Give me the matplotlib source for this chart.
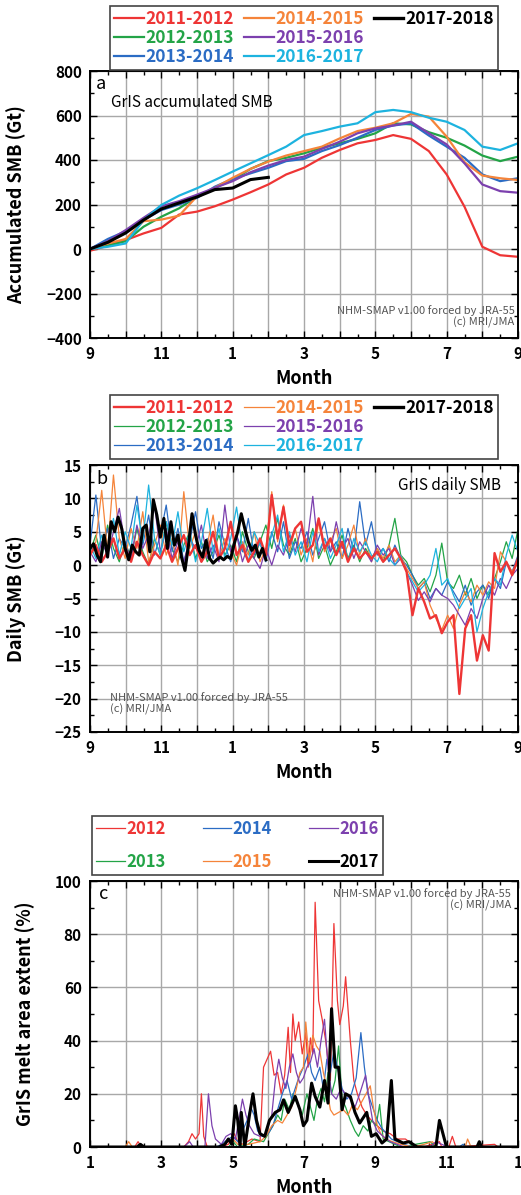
import numpy as np
import matplotlib
matplotlib.use("Agg")
import matplotlib.pyplot as plt
from matplotlib.lines import Line2D
from matplotlib.ticker import FixedLocator, FixedFormatter, MultipleLocator

plt.rcParams['font.family'] = ['Noto Sans CJK JP', 'DejaVu Sans']

SEASONS = ["2011-2012", "2012-2013", "2013-2014", "2014-2015", "2015-2016", "2016-2017", "2017-2018"]
YEARS = ["2012", "2013", "2014", "2015", "2016", "2017"]
COLORS = ["#ee3535", "#23a447", "#2b6cc4", "#f5843a", "#7c40ae", "#1db3df", "#000000"]
CREDIT = "NHM-SMAP v1.00 forced by JRA-55\n(c) MRI/JMA"

# ---- panel a: accumulated SMB (Gt), sampled every half month from Sep 1
MONTHS_A = np.arange(0, 12.5, 0.5)
ACC_2011 = [-8, 15, 40, 70, 95, 155, 168, 192, 222, 255, 290, 335, 365, 410, 445, 475, 490, 512, 495, 440, 335, 190, 10, -28, -35]
ACC_2012 = [0, 15, 35, 100, 145, 183, 235, 275, 310, 360, 395, 410, 430, 455, 475, 495, 520, 565, 560, 525, 500, 465, 420, 395, 415]
ACC_2013 = [0, 45, 80, 130, 175, 200, 230, 280, 315, 340, 365, 395, 405, 440, 467, 500, 535, 555, 565, 510, 460, 410, 335, 305, 318]
ACC_2014 = [0, 25, 45, 125, 132, 150, 237, 275, 320, 360, 393, 420, 440, 460, 497, 530, 545, 565, 607, 595, 505, 390, 330, 318, 310]
ACC_2015 = [0, 35, 85, 140, 192, 215, 244, 275, 305, 345, 375, 400, 415, 450, 482, 520, 542, 555, 572, 520, 470, 385, 290, 260, 253]
ACC_2016 = [0, 10, 25, 130, 198, 240, 273, 310, 348, 385, 422, 460, 512, 530, 550, 565, 615, 625, 615, 590, 572, 535, 460, 445, 475]
ACC_2017 = [0, 30, 72, 130, 180, 207, 234, 267, 274, 312, 322]

# ---- panel b: daily SMB (Gt), every 5 days from Sep 1
DAYS_B = np.arange(0, 366, 5)
DAILY_2011 = [1.5, 3.0, 0.5, 2.0, 4.0, 1.0, 2.5, 0.5, 3.5, 1.5, 0.0, 2.0,
              1.0, 3.0, 0.5, 2.5, 4.5, 1.5, 3.0, 0.5, 2.0, 5.0, 1.0, 2.5,
              6.5, 1.5, 3.0, 0.5, 2.0, 4.0, 1.5, 10.5, 4.0, 8.7, 3.0, 5.5,
              6.5, 2.0, 3.0, 7.0, 2.5, 4.0, 1.5, 3.5, 0.5, 2.5, 1.0, 2.0,
              1.0, 2.0, 0.5, 1.5, 2.5, 1.0, -1.0, -7.5, -3.5, -5.5, -8.0, -7.5, -10.2,
              -8.5, -7.5, -19.3, -9.5, -7.5, -14.3, -10.5, -12.8, 1.8, -1.0, 0.5, -1.5, 1.0]
DAILY_2012 = [2.0, 4.5, 1.0, 6.0, 2.5, 0.5, 3.5, 1.0, 5.5, 2.0, 0.0, 4.0,
              1.5, 6.5, 2.5, 0.5, 3.0, 5.0, 1.0, 3.5, 0.5, 2.0, 4.5, 1.5,
              3.0, 0.5, 5.0, 2.0, 1.0, 3.5, 6.0, 2.5, 7.0, 3.0, 1.5, 4.0,
              0.5, 2.5, 5.5, 1.0, 3.0, 0.0, 2.0, 4.5, 1.0, 3.0, 0.5, 2.5,
              1.0, 2.5, 0.5, 3.0, 7.0, 1.5, 0.5, -1.5, -3.0, -2.0, -4.0, -1.5, 3.3,
              -2.5, -3.5, -1.5, -4.5, -2.0, -5.0, -3.0, -4.5, -2.0, 0.5, 3.5, 1.0, 5.4]
DAILY_2013 = [3.0, 10.5, 2.0, 5.5, 1.0, 4.0, 2.5, 6.0, 10.3, 3.0, 7.5, 1.5,
              4.5, 9.0, 2.0, 5.5, 0.5, 3.5, 8.0, 2.5, 4.0, 1.0, 6.5, 3.0,
              0.5, 4.5, 2.0, 7.0, 1.5, 3.5, 0.5, 5.0, 2.0, 6.5, 1.0, 3.5,
              2.5, 5.0, 1.5, 4.0, 6.5, 2.0, 3.5, 1.0, 5.5, 2.0, 9.5, 3.0,
              6.5, 1.5, 2.5, 0.5, 3.0, 1.0, 0.0, -1.5, -3.5, -2.5, -5.0, -3.5, -4.5,
              -2.5, -4.0, -5.5, -3.0, -6.0, -4.0, -3.0, -5.0, -2.0, -3.5, 0.5, -1.0, 1.5]
DAILY_2014 = [1.5, 3.5, 11.2, 2.0, 13.5, 4.0, 1.0, 5.5, 2.5, 8.0, 0.5, 3.0,
              6.0, 1.5, 4.0, 0.0, 11.0, 2.5, 5.0, 0.5, 3.0, 7.5, 1.0, 4.0,
              2.0, 0.0, 3.5, 1.5, 5.0, 0.5, 2.5, 11.0, 3.5, 9.0, 2.0, 5.5,
              1.5, 4.0, 0.5, 6.5, 2.0, 3.5, 5.5, 1.0, 3.0, 6.0, 1.5, 4.0,
              0.5, 2.5, 1.0, 3.0, 0.5, 1.5, -0.5, -2.0, -3.5, -2.5, -6.0, -8.0, -9.7,
              -7.5, -9.5, -6.0, -4.0, -5.5, -3.0, -4.5, -2.5, -3.5, 2.0, 0.5, -1.0, 0.5]
DAILY_2015 = [2.0, 0.5, 3.5, 1.5, 5.0, 8.5, 3.0, 1.0, 6.0, 2.5, 4.5, 9.0,
              2.0, 5.5, 1.0, 3.5, 0.5, 4.0, 2.5, 6.0, 1.0, 3.0, 0.5, 9.0,
              2.0, 4.5, 0.5, 3.0, 1.0, -0.5, 2.5, 0.0, 3.0, 1.5, 4.5, 2.0,
              5.5, 3.0, 10.3, 1.5, 4.0, 2.0, 6.5, 2.5, 4.0, 1.0, 3.5, 2.0,
              0.5, 3.0, 1.5, 2.5, 0.0, 1.0, -1.0, -3.0, -5.3, -4.0, -5.5, -3.5, -4.5,
              -5.0, -6.0, -7.5, -9.0, -6.5, -8.0, -5.0, -3.0, -4.5, -2.0, -3.5, -1.5, -0.5]
DAILY_2016 = [3.0, 1.0, 4.5, 2.0, 7.0, 1.5, 5.0, 2.5, 9.0, 3.5, 12.0, 4.0,
              1.5, 6.5, 3.0, 8.0, 2.0, 5.0, 0.5, 3.5, 8.5, 2.0, 5.5, 1.0,
              4.0, 8.7, 2.5, 0.5, 5.0, 3.0, 1.5, 4.5, 7.5, 2.0, 5.0, 1.5,
              3.5, 0.5, 5.0, 2.0, 4.0, 1.0, 3.0, 5.5, 0.5, 4.0, 2.0, 3.5,
              1.5, 0.5, 2.5, 1.0, 0.0, 1.5, -1.0, -2.5, -4.0, -3.0, -1.5, 2.5, -3.0,
              -2.0, -4.5, -6.5, -5.0, -3.5, -10.0, -6.5, -4.0, -2.0, -3.0, 1.5, 4.5, 2.0]
# 2017-2018 so far, every 3 days
DAYS_B_2017 = np.arange(0, 151, 3)
DAILY_2017 = [2.5, 3.2, 1.5, 0.5, 4.5, 1.2, 6.5, 5.0, 7.2, 5.5, 2.5, 0.8, 3.0, 2.0,
              1.5, 5.5, 6.0, 2.0, 9.8, 7.5, 4.2, 7.0, 2.5, 6.5, 3.0, 4.5, 1.2,
              -0.8, 3.0, 7.7, 4.5, 2.2, 1.2, 3.7, 1.0, 0.3, 0.8, 1.2, 0.8, 1.3,
              1.0, 3.2, 5.0, 7.7, 5.5, 3.5, 2.2, 3.0, 1.2, 2.5, 0.8]

# ---- panel c: melt area extent (%), (day of year, value)
MELT_2012 = [(0, 0), (38, 0), (41, 2), (44, 0), (80, 0), (84, 2), (87, 5), (90, 3), (93, 5), (95, 20),
             (97, 4), (100, 0), (112, 0), (118, 1), (123, 5), (126, 2), (130, 1), (138, 3), (145, 2),
             (148, 30), (150, 32), (154, 36), (157, 27), (160, 28), (163, 20), (166, 27), (169, 45),
             (171, 28), (173, 50), (175, 40), (178, 47), (181, 35), (184, 43), (186, 30), (188, 41),
             (190, 35), (192, 92), (195, 55), (198, 48), (201, 40), (205, 25), (208, 84), (211, 55),
             (213, 46), (216, 53), (218, 64), (222, 40), (225, 25), (228, 20), (232, 15), (236, 12),
             (240, 10), (245, 8), (250, 6), (256, 5), (262, 3), (269, 3), (275, 1), (285, 0), (298, 2),
             (300, 0), (306, 0), (309, 4), (312, 0), (345, 1), (348, 0), (365, 0)]
MELT_2013 = [(0, 0), (118, 0), (122, 2), (126, 0), (135, 1), (140, 3), (148, 2), (152, 5), (156, 8),
             (160, 12), (163, 10), (166, 18), (170, 14), (173, 20), (177, 16), (181, 12), (185, 20),
             (188, 15), (191, 10), (194, 18), (197, 22), (200, 17), (203, 28), (206, 20), (209, 25),
             (212, 38), (215, 18), (218, 15), (222, 10), (226, 6), (229, 4), (233, 8), (237, 6),
             (240, 10), (244, 8), (247, 16), (250, 3), (255, 2), (260, 1), (265, 0), (290, 2),
             (295, 0), (365, 0)]
MELT_2014 = [(0, 0), (108, 0), (112, 1), (118, 3), (122, 4), (126, 2), (130, 6), (134, 10), (137, 15),
             (140, 12), (143, 6), (147, 4), (152, 5), (156, 8), (160, 14), (164, 20), (168, 25),
             (172, 18), (175, 22), (178, 26), (182, 30), (186, 35), (189, 28), (192, 25), (196, 30),
             (199, 22), (202, 33), (205, 28), (208, 36), (211, 30), (215, 22), (219, 18), (223, 20),
             (227, 26), (231, 43), (234, 30), (237, 20), (241, 15), (245, 10), (249, 7), (253, 5),
             (257, 3), (262, 2), (268, 1), (275, 0), (315, 0), (318, 1), (321, 0), (365, 0)]
MELT_2015 = [(0, 0), (30, 0), (33, 2), (36, 0), (110, 0), (118, 2), (122, 3), (126, 1), (135, 1),
             (145, 2), (150, 4), (155, 8), (160, 10), (164, 9), (168, 12), (172, 15), (176, 22),
             (179, 28), (182, 30), (184, 47), (187, 32), (190, 42), (193, 38), (196, 36), (199, 28),
             (202, 22), (205, 14), (208, 12), (212, 13), (216, 14), (220, 12), (224, 16), (228, 14),
             (233, 18), (239, 23), (242, 14), (245, 8), (248, 5), (252, 3), (258, 2), (265, 1),
             (275, 0), (285, 1), (292, 2), (296, 0), (320, 0), (322, 3), (325, 0), (365, 0)]
MELT_2016 = [(0, 0), (80, 0), (85, 2), (88, 0), (98, 0), (101, 20), (104, 8), (107, 3), (112, 1),
             (116, 4), (120, 5), (124, 3), (127, 10), (130, 18), (133, 12), (136, 8), (140, 5),
             (145, 4), (150, 5), (155, 12), (158, 25), (161, 33), (164, 26), (167, 22), (170, 30),
             (173, 35), (176, 28), (179, 24), (182, 26), (185, 30), (188, 32), (191, 37), (194, 30),
             (197, 40), (200, 48), (203, 30), (206, 20), (210, 18), (214, 22), (218, 20), (222, 18),
             (226, 15), (230, 20), (235, 27), (238, 18), (241, 10), (245, 6), (250, 4), (256, 2),
             (262, 1), (268, 0), (290, 0), (295, 2), (300, 1), (305, 0), (365, 0)]
MELT_2017 = [(0, 0), (40, 0), (43, 1), (46, 0), (110, 0), (115, 1), (118, 3), (121, 1), (124, 15.5),
             (126, 10), (128, 0), (129, 13), (132, 0), (136, 12), (139, 20), (142, 10), (145, 5),
             (149, 4), (153, 10), (158, 13), (162, 14), (165, 17.7), (169, 13), (175, 19), (179, 14),
             (182, 8), (185, 10), (189, 24), (192, 19), (196, 15), (200, 25), (203, 16.5), (206, 52),
             (209, 30), (212, 30), (215, 14), (218, 20), (222, 19), (226, 13), (230, 9), (236, 13),
             (240, 4), (244, 5), (249, 1.5), (253, 3), (257, 25), (260, 3), (267, 1.5), (272, 2),
             (279, 0), (295, 0), (298, 10), (301, 5), (304, 0), (330, 0), (332, 2), (334, 0), (365, 0)]


def axes_rect(top, bottom, left=90, right=518, w=521, h=1195):
    return [left / w, 1 - bottom / h, (right - left) / w, (bottom - top) / h]


def style_axes(ax, xlim, xlabels, ylim, ymajor, yminor, ylabel, label_x):
    ax.set_xlim(*xlim)
    ax.set_ylim(*ylim)
    ticks = np.arange(xlim[0], xlim[1] + 1)
    ax.xaxis.set_major_locator(FixedLocator(ticks))
    ax.xaxis.set_major_formatter(FixedFormatter(xlabels))
    ax.xaxis.set_minor_locator(MultipleLocator(0.5))
    ax.yaxis.set_major_locator(MultipleLocator(ymajor))
    ax.yaxis.set_minor_locator(MultipleLocator(yminor))
    ax.grid(True, which='major', color='#a8a8a8', lw=1.0)
    ax.tick_params(which='both', direction='in', top=True, right=True, width=1.0)
    ax.tick_params(which='major', length=5, labelsize=11, pad=6)
    ax.tick_params(which='minor', length=3)
    for t in ax.get_xticklabels() + ax.get_yticklabels():
        t.set_fontweight('bold')
    for s in ax.spines.values():
        s.set_linewidth(1.4)
    ax.set_xlabel("Month", fontsize=13, fontweight='bold', va='top')
    ax.xaxis.set_label_coords(0.5, -0.115)
    ax.set_ylabel(ylabel, fontsize=13, fontweight='bold')
    ax.yaxis.set_label_coords(label_x, 0.5)


def add_legend(fig, handles, labels, box, size, ncol, spacing, colspace):
    x0, y0, x1, y1 = box
    leg = fig.legend(handles, labels, ncol=ncol, loc='upper left',
                     bbox_to_anchor=(x0 / 521, 1 - y1 / 1195, (x1 - x0) / 521, (y1 - y0) / 1195),
                     bbox_transform=fig.transFigure, mode='expand', borderaxespad=0,
                     prop={'size': size, 'weight': 'bold'}, labelcolor='linecolor',
                     handlelength=1.7, handletextpad=0.1, labelspacing=spacing,
                     columnspacing=colspace, borderpad=0.25, fancybox=False,
                     edgecolor='#444444', framealpha=1)
    leg.get_frame().set_linewidth(1.2)
    return leg


fig = plt.figure(figsize=(5.21, 11.95), dpi=100)
month_labels = ['9', '', '11', '', '1', '', '3', '', '5', '', '7', '', '9']

# ---------------- panel a
ax_a = fig.add_axes(axes_rect(71, 338))
acc = [ACC_2011, ACC_2012, ACC_2013, ACC_2014, ACC_2015, ACC_2016]
for vals, color in zip(acc, COLORS):
    ax_a.plot(MONTHS_A, vals, color=color, lw=1.6)
ax_a.plot(MONTHS_A[:len(ACC_2017)], ACC_2017, color=COLORS[6], lw=2.2)
style_axes(ax_a, (0, 12), month_labels, (-400, 800), 200, 100, "Accumulated SMB (Gt)", -0.15)
ax_a.text(0.014, 0.985, "a", transform=ax_a.transAxes, fontsize=13, va='top')
ax_a.text(0.05, 0.915, "GrIS accumulated SMB", transform=ax_a.transAxes, fontsize=11, va='top')
ax_a.text(0.992, 0.125, CREDIT, transform=ax_a.transAxes, fontsize=8, color='#555555',
          ha='right', va='top', linespacing=1.1)

handles = [Line2D([], [], color=c, lw=1.6 if c != '#000000' else 2.4) for c in COLORS]
blank = Line2D([], [], color='none')
add_legend(fig, handles + [blank, blank], SEASONS + ['', ''], (110, 6, 498, 66), 12.5, 3, 0.05, 0.6)

# ---------------- panel b
ax_b = fig.add_axes(axes_rect(465, 732))
daily = [DAILY_2011, DAILY_2012, DAILY_2013, DAILY_2014, DAILY_2015, DAILY_2016]
widths_b = [1.7, 0.9, 0.9, 0.9, 0.9, 0.9]
order = [1, 2, 3, 4, 5, 0]
for i in order:
    ax_b.plot(DAYS_B * 12 / 365, daily[i], color=COLORS[i], lw=widths_b[i])
ax_b.plot(DAYS_B_2017 * 12 / 365, DAILY_2017, color=COLORS[6], lw=2.2)
style_axes(ax_b, (0, 12), month_labels, (-25, 15), 5, 2.5, "Daily SMB (Gt)", -0.15)
ax_b.text(0.014, 0.98, "b", transform=ax_b.transAxes, fontsize=13, va='top')
ax_b.text(0.96, 0.955, "GrIS daily SMB", transform=ax_b.transAxes, fontsize=11, ha='right', va='top')
ax_b.text(0.047, 0.15, CREDIT, transform=ax_b.transAxes, fontsize=8, color='#555555',
          ha='left', va='top', linespacing=1.1)

handles_b = [Line2D([], [], color=c, lw=w) for c, w in zip(COLORS, widths_b + [2.4])]
add_legend(fig, handles_b + [blank, blank], SEASONS + ['', ''], (110, 395, 498, 454), 12.5, 3, 0.05, 0.6)

# ---------------- panel c
ax_c = fig.add_axes(axes_rect(881, 1147))
melt = [MELT_2012, MELT_2013, MELT_2014, MELT_2015, MELT_2016, MELT_2017]
colors_c = [COLORS[0], COLORS[1], COLORS[2], COLORS[3], COLORS[4], COLORS[6]]
widths_c = [0.9, 0.9, 0.9, 0.9, 0.9, 2.2]
for pts, color, w in zip(melt, colors_c, widths_c):
    doy, val = np.array(pts, dtype=float).T
    ax_c.plot(1 + doy * 12 / 365, val, color=color, lw=w)
style_axes(ax_c, (1, 13), ['1', '', '3', '', '5', '', '7', '', '9', '', '11', '', '1'],
           (0, 100), 20, 10, "GrIS melt area extent (%)", -0.128)
ax_c.text(0.02, 0.985, "c", transform=ax_c.transAxes, fontsize=13, va='top')
ax_c.text(0.984, 0.975, CREDIT, transform=ax_c.transAxes, fontsize=8, color='#555555',
          ha='right', va='top', linespacing=1.1)

handles_c = [Line2D([], [], color=c, lw=w) for c, w in zip(colors_c, widths_c)]
add_legend(fig, handles_c, YEARS, (92, 816, 383, 875), 12, 3, 0.9, 1.5)

fig.savefig("out.png", dpi=100)
